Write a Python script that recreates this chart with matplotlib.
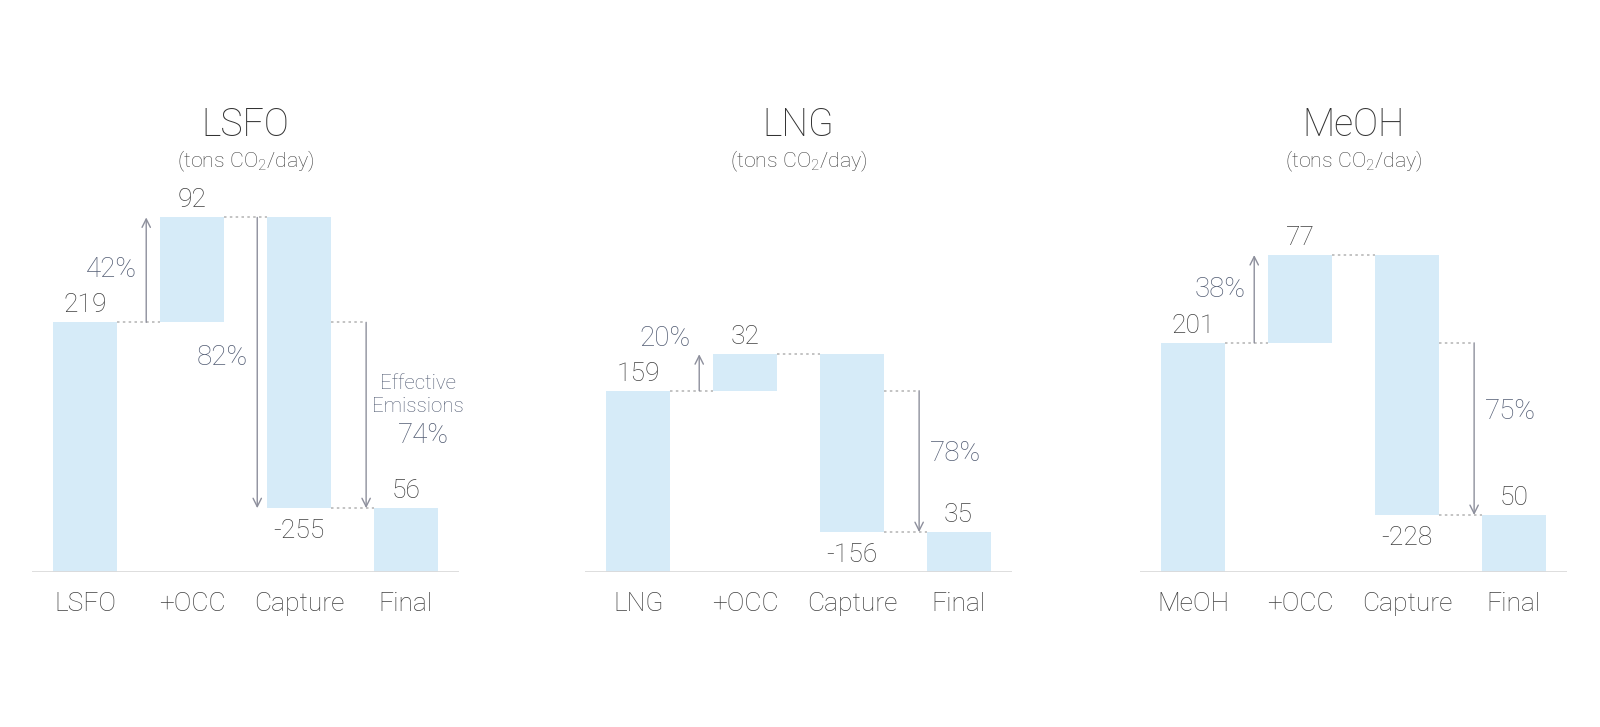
import matplotlib
matplotlib.use('Agg')
import matplotlib.pyplot as plt

# Data (tons CO2/day)
fuels = ['LSFO', 'LNG', 'MeOH']
steps = ['+OCC', 'Capture', 'Final']
base = [219, 159, 201]
occ_add = [92, 32, 77]
capture = [-255, -156, -228]
final = [56, 35, 50]
show_capture_pct = [True, False, False]
effective_note = ['Effective\nEmissions', None, None]

# Style
bar_color = '#d6ebf8'
txt_color = '#404040'
pct_color = '#535d74'
arrow_color = '#8d8f9c'
dot_color = '#b9b9b9'
font = ['Roboto', 'DejaVu Sans']
pct1_dy = [0, 34, 9]      # px shift up of the first % label
pct3_dy = [0, 8, 17]      # px shift up of the last % label
PX = 72 / 100             # points per pixel

plt.rcParams['font.family'] = font
plt.rcParams['font.weight'] = 'light'
plt.rcParams['mathtext.fontset'] = 'custom'
plt.rcParams['mathtext.rm'] = 'Roboto:light'

fig = plt.figure(figsize=(16, 7.27), dpi=100)

lefts = [32, 585, 1140]
for k in range(3):
    ax = fig.add_axes([lefts[k] / 1600, 155 / 727, 427 / 1600, 456 / 727])
    ax.set_xlim(-0.5, 3.5)
    ax.set_ylim(0, 400)
    ax.axis('off')

    b, o, c, f = base[k], occ_add[k], capture[k], final[k]
    top = b + o
    low = top + c

    # bars
    ax.bar([0, 1, 2, 3], [b, o, -c, f], bottom=[0, b, low, 0],
           width=0.6, color=bar_color, zorder=2)
    ax.axhline(0, color='#dadada', lw=2, zorder=3)

    a1, a2, a3 = 0.57, 1.61, 2.63
    dot = dict(color=dot_color, lw=1.2, ls=(0, (1.5, 2)), zorder=1)
    ax.plot([0.3, 0.7], [b, b], **dot)
    ax.plot([1.3, 1.7], [top, top], **dot)
    ax.plot([2.3, a3], [b, b], **dot)
    ax.plot([2.3, 2.7], [f, f], **dot)

    arr = dict(arrowstyle='->', color=arrow_color, lw=1.0,
               shrinkA=0, shrinkB=0, mutation_scale=15)
    ax.annotate('', xy=(a1, top), xytext=(a1, b), arrowprops=arr)
    ax.annotate('', xy=(a3, f), xytext=(a3, b), arrowprops=arr)

    # value labels
    vals = [b, o, c, f]
    tops = [b, top, low, f]
    for i in range(4):
        if vals[i] < 0:
            ax.annotate(f'{vals[i]}', (i, tops[i]), xytext=(0, -11 * PX),
                        textcoords='offset points', ha='center', va='top',
                        fontsize=19, color=txt_color)
        else:
            ax.annotate(f'{vals[i]}', (i, tops[i]), xytext=(0, 10 * PX),
                        textcoords='offset points', ha='center', va='baseline',
                        fontsize=19, color=txt_color)

    # category labels
    for i, lab in enumerate([fuels[k]] + steps):
        ax.annotate(lab, (i, 0), xytext=(0, -32 * PX), textcoords='offset points',
                    ha='center', va='center', fontsize=19, color=txt_color)

    # percentages
    p1 = f'{round(100 * o / b)}%'
    ax.annotate(p1, (a1, (b + top) / 2), xytext=(-9 * PX, pct1_dy[k] * PX),
                textcoords='offset points', ha='right', va='center',
                fontsize=20, color=pct_color)

    if show_capture_pct[k]:
        ax.annotate('', xy=(a2, low), xytext=(a2, top), arrowprops=arr)
        p2 = f'{round(-100 * c / top)}%'
        ax.annotate(p2, (a2, (top + low) / 2), xytext=(-9 * PX, 5 * PX),
                    textcoords='offset points', ha='right', va='center',
                    fontsize=20, color=pct_color)

    p3 = f'{round(100 * (b - f) / b)}%'
    mid3 = (b + f) / 2
    if effective_note[k]:
        ax.annotate(effective_note[k], (a3, mid3), xytext=(52 * PX, 20 * PX),
                    textcoords='offset points', ha='center', va='center',
                    fontsize=14.8, color=pct_color, linespacing=1.3)
        ax.annotate(p3, (a3, mid3), xytext=(57 * PX, -20 * PX),
                    textcoords='offset points', ha='center', va='center',
                    fontsize=20, color=pct_color)
    else:
        ax.annotate(p3, (a3, mid3), xytext=(11 * PX, pct3_dy[k] * PX),
                    textcoords='offset points', ha='left', va='center',
                    fontsize=20, color=pct_color)

    # titles
    ax.text(1.5, (572 - 125) / 1.14, fuels[k], ha='center', va='center',
            fontsize=27, color='#333333')
    ax.text(1.5, (572 - 161) / 1.14, r'(tons CO$_\mathregular{2}$/day)',
            ha='center', va='center', fontsize=15.4, color=txt_color)

fig.savefig('out.png', dpi=100, facecolor='white')
